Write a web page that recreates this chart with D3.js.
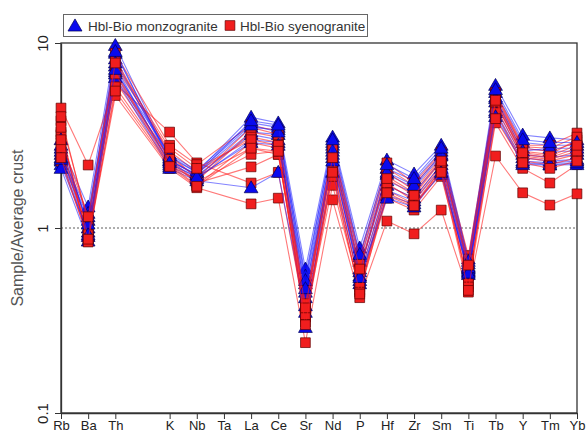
<!DOCTYPE html>
<html><head><meta charset="utf-8">
<script src="https://cdn.jsdelivr.net/npm/d3@7"></script>
<style>body{margin:0;background:#fff}svg{display:block}text{font-family:"Liberation Sans",Arial,sans-serif}</style>
</head><body><svg id="c" width="587" height="435"></svg>
<script>
// Tick labels / categories (index positions; U has no label and no data)
const categories = ["Rb","Ba","Th","U","K","Nb","Ta","La","Ce","Sr","Nd","P","Hf","Zr","Sm","Ti","Tb","Y","Tm","Yb"];
const tickLabels = ["Rb","Ba","Th","K","Nb","Ta","La","Ce","Sr","Nd","P","Hf","Zr","Sm","Ti","Tb","Y","Tm","Yb"];
const dataElements = ["Rb","Ba","Th","K","Nb","La","Ce","Sr","Nd","P","Hf","Zr","Sm","Ti","Tb","Y","Tm","Yb"];
const yTicks = [0.1, 1, 10];

// Hbl-Bio monzogranite samples
const monzogranite = [
  [2.8,1.3,9.7,2.4,2.0,3.97,3.7,0.60,3.1,0.78,2.33,1.96,2.8,0.68,5.9,3.18,3.07,3.0],
  [2.5,1.2,8.2,2.3,1.95,3.5,3.4,0.55,2.9,0.70,2.1,1.8,2.6,0.64,5.4,2.9,2.8,2.8],
  [2.3,1.1,7.5,2.2,1.9,3.3,3.2,0.50,2.7,0.66,1.95,1.65,2.45,0.62,5.1,2.7,2.6,2.6],
  [3.0,1.0,7.0,2.5,2.05,3.7,3.5,0.45,2.8,0.60,1.8,1.55,2.3,0.60,4.8,2.5,2.4,2.5],
  [2.2,0.95,6.8,2.15,1.85,3.0,2.9,0.42,2.5,0.55,1.7,1.45,2.2,0.58,4.5,2.4,2.3,2.35],
  [2.6,0.9,8.8,2.35,1.9,3.2,3.0,0.38,2.4,0.52,1.6,1.4,2.1,0.56,4.3,2.3,2.25,2.3],
  [2.1,0.85,6.5,2.1,1.8,1.65,2.0,0.35,2.0,0.50,1.5,1.35,1.95,0.59,4.2,2.2,2.19,2.2],
  [2.7,1.05,7.8,2.45,2.0,3.6,3.3,0.29,2.6,0.58,2.0,1.7,2.5,0.61,5.0,2.6,2.7,2.7],
  [2.4,1.15,9.0,2.3,1.95,3.8,3.6,0.52,3.0,0.72,2.2,1.85,2.7,0.66,5.6,3.0,2.9,2.9],
  [2.35,0.92,7.2,2.25,1.88,2.9,2.8,0.47,2.3,0.54,1.45,1.3,2.0,0.57,4.0,2.25,2.2,2.25]
];
// Hbl-Bio syenogranite samples
const syenogranite = [
  [3.3,0.85,5.2,2.1,1.65,1.35,1.45,0.24,1.42,0.42,1.09,0.93,1.25,0.45,2.45,1.55,1.33,1.53],
  [4.45,2.19,6.0,3.3,2.25,1.75,2.0,0.33,1.7,0.46,1.45,1.25,1.9,0.52,3.7,2.1,1.75,2.2],
  [3.8,1.1,8.8,2.8,2.2,3.6,3.34,0.40,2.74,0.70,2.25,1.75,2.57,0.71,5.4,2.8,2.8,3.26],
  [3.2,0.95,7.5,2.6,2.0,3.1,2.9,0.38,2.5,0.62,1.9,1.55,2.35,0.65,5.0,2.6,2.5,3.0],
  [2.9,0.9,6.5,2.4,1.9,2.7,2.5,0.36,2.3,0.55,1.7,1.45,2.2,0.60,4.7,2.5,2.4,2.7],
  [2.5,1.0,6.2,2.3,1.75,2.14,2.5,0.33,2.1,0.50,1.6,1.35,2.06,0.55,4.5,2.4,2.3,2.5],
  [2.3,0.88,7.0,2.2,1.8,3.3,3.1,0.35,2.6,0.58,2.0,1.6,2.4,0.62,5.2,2.7,2.6,2.9],
  [4.0,1.05,8.2,2.5,1.85,3.5,3.2,0.39,2.7,0.66,2.1,1.7,2.5,0.68,5.3,2.75,2.7,3.1],
  [3.5,0.84,5.8,2.2,1.7,2.9,2.7,0.31,2.2,0.48,1.5,1.3,2.1,0.50,4.2,2.3,2.2,2.4],
  [2.7,0.92,6.8,2.35,1.78,2.5,2.6,0.34,1.9,0.45,1.75,1.4,2.15,0.48,4.8,2.45,2.35,2.6],
  [3.0,1.15,7.8,2.7,2.1,3.0,2.8,0.37,2.4,0.60,1.85,1.5,2.3,0.63,4.9,2.55,2.45,2.8],
  [2.4,0.87,5.5,2.15,1.68,2.7,2.6,0.30,2.0,0.44,1.55,1.32,2.0,0.46,3.9,2.25,2.1,2.3]
];
const seriesNames = ["Hbl-Bio monzogranite","Hbl-Bio syenogranite"];

const svg = d3.select("#c");
const m = {l:61, r:10, t:43, b:22};
const W = 587, H = 435;
const x = d3.scalePoint().domain(categories).range([m.l, W - m.r]);
const y = d3.scaleLog().domain([0.1, 10]).range([H - m.b, m.t]);

// frame
svg.append("rect").attr("x", m.l).attr("y", m.t).attr("width", W - m.r - m.l).attr("height", H - m.b - m.t)
  .attr("fill","none").attr("stroke","#333").attr("stroke-width",1.3);

// dotted reference at 1
svg.append("line").attr("x1", m.l).attr("x2", W - m.r).attr("y1", y(1)).attr("y2", y(1))
  .attr("stroke","#333").attr("stroke-width",0.8).attr("stroke-dasharray","2,2");

// axes
const xAxis = svg.append("g").attr("transform",`translate(0,${H - m.b})`)
  .call(d3.axisBottom(x).tickValues(tickLabels).tickSize(6).tickSizeOuter(0));
xAxis.select(".domain").attr("stroke","#333").attr("stroke-width",1.3);
xAxis.selectAll(".tick line").attr("stroke","#333");
xAxis.selectAll(".tick text").attr("font-size",13).attr("fill","#222").attr("dy","0.62em").attr("y",9);

const yAxis = svg.append("g").attr("transform",`translate(${m.l},0)`)
  .call(d3.axisLeft(y).tickValues(yTicks).tickFormat(d => d === 0.1 ? "0.1" : String(d)).tickSize(6).tickSizeOuter(0));
yAxis.select(".domain").attr("stroke","#333").attr("stroke-width",1.3);
yAxis.selectAll(".tick line").attr("stroke","#333");
yAxis.selectAll(".tick text").attr("font-size",15).attr("fill","#222")
  .attr("x",0).attr("dy",0).attr("text-anchor","middle")
  .attr("transform","translate(-13,0) rotate(-90)");

svg.append("text").attr("transform",`translate(23,${(m.t + H - m.b)/2}) rotate(-90)`)
  .attr("text-anchor","middle").attr("font-size",16).attr("fill","#555").text("Sample/Average crust");

const line = d3.line().x((d,i) => x(dataElements[i])).y(d => y(d));

const styles = {
  B: {line:"rgba(30,30,255,0.55)", fill:"#0a0aee", stroke:"#000055", sym:d3.symbolTriangle, size:82, dy:1},
  R: {line:"rgba(255,30,30,0.6)", fill:"#f01e1e", stroke:"#600000", sym:d3.symbolSquare, size:95, dy:0}
};
// interleave samples of both groups, as in per-sample plotting
const samples = [];
const n = Math.max(monzogranite.length, syenogranite.length);
for (let i = 0; i < n; i++) {
  if (i < syenogranite.length) samples.push({g:"R", v:syenogranite[i]});
  if (i < monzogranite.length) samples.push({g:"B", v:monzogranite[i]});
}
const sg = svg.append("g").selectAll("g").data(samples).join("g");
sg.append("path").attr("d", d => line(d.v)).attr("fill","none")
  .attr("stroke", d => styles[d.g].line).attr("stroke-width",1.1);
sg.each(function(s) {
  const st = styles[s.g];
  d3.select(this).selectAll(".pt").data(s.v.map((v,i) => [dataElements[i], v])).join("path")
    .attr("class","pt")
    .attr("d", d3.symbol().type(st.sym).size(st.size))
    .attr("transform", d => `translate(${x(d[0])},${y(d[1]) + st.dy})`)
    .attr("fill", st.fill).attr("stroke", st.stroke).attr("stroke-width",0.7);
});

// legend
const lg = svg.append("g");
lg.append("rect").attr("x",63.5).attr("y",14.5).attr("width",304).attr("height",22)
  .attr("fill","#fff").attr("stroke","#666").attr("stroke-width",1);
lg.append("path").attr("d", d3.symbol().type(d3.symbolTriangle).size(85))
  .attr("transform","translate(75,27)").attr("fill","#0a0aee").attr("stroke","#000055").attr("stroke-width",0.7);
lg.append("text").attr("x",88).attr("y",31).attr("font-size",13.5).attr("fill","#333").text(seriesNames[0]);
lg.append("path").attr("d", d3.symbol().type(d3.symbolSquare).size(95))
  .attr("transform","translate(230,25.5)").attr("fill","#f01e1e").attr("stroke","#600000").attr("stroke-width",0.7);
lg.append("text").attr("x",240).attr("y",31).attr("font-size",13.5).attr("fill","#333").text(seriesNames[1]);
</script></body></html>
